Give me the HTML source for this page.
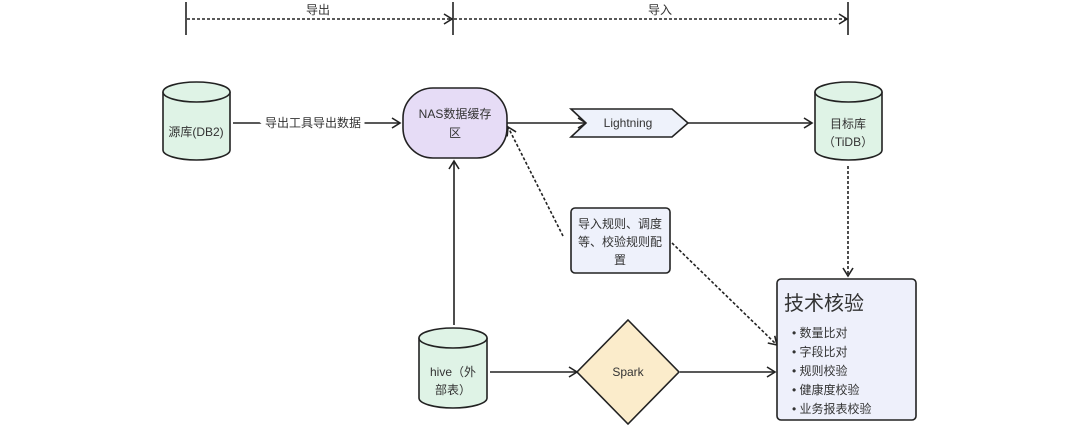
<!DOCTYPE html>
<html><head><meta charset="utf-8"><style>
body{margin:0;background:#fff;}
svg text{font-family:"Liberation Sans","Noto Sans CJK SC",sans-serif;fill:#333;}
</style></head><body>
<svg width="1080" height="435" viewBox="0 0 1080 435" xmlns="http://www.w3.org/2000/svg">
<defs>
<marker id="a" markerWidth="12" markerHeight="12" refX="10" refY="6" orient="auto" markerUnits="userSpaceOnUse">
<path d="M2,1 L10,6 L2,11" fill="none" stroke="#222" stroke-width="1.6"/></marker>
</defs>
<g stroke="#222" stroke-width="1.6" fill="none">
<line x1="186" y1="2" x2="186" y2="35"/><line x1="453" y1="2" x2="453" y2="35"/><line x1="848" y1="2" x2="848" y2="35"/>
<line x1="187" y1="19" x2="452" y2="19" stroke-dasharray="3,2" marker-end="url(#a)"/>
<line x1="454" y1="19" x2="847" y2="19" stroke-dasharray="3,2" marker-end="url(#a)"/>
<line x1="233" y1="123" x2="400" y2="123" marker-end="url(#a)"/>
<line x1="507" y1="123" x2="586" y2="123" marker-end="url(#a)"/>
<line x1="688" y1="123" x2="812" y2="123" marker-end="url(#a)"/>
<line x1="848" y1="166" x2="848" y2="276" stroke-dasharray="3,2" marker-end="url(#a)"/>
<line x1="454" y1="325" x2="454" y2="161" marker-end="url(#a)"/>
<line x1="563" y1="236" x2="508" y2="127" stroke-dasharray="3,2" marker-end="url(#a)"/>
<line x1="672" y1="243" x2="777" y2="345" stroke-dasharray="3,2" marker-end="url(#a)"/>
<line x1="490" y1="372" x2="577" y2="372" marker-end="url(#a)"/>
<line x1="680" y1="372" x2="775" y2="372" marker-end="url(#a)"/>
</g>
<text x="318" y="14" font-size="12" text-anchor="middle">导出</text>
<text x="660" y="14" font-size="12" text-anchor="middle">导入</text>
<text x="313" y="127" font-size="12" text-anchor="middle" style="paint-order:stroke" stroke="#fff" stroke-width="8">导出工具导出数据</text>
<g stroke="#222" stroke-width="1.6" fill="#dff3e6">
<path d="M163,92 L163,150 A33.5,10 0 0 0 230,150 L230,92"/>
<ellipse cx="196.5" cy="92" rx="33.5" ry="10"/>
<path d="M815,92 L815,150 A33.5,10 0 0 0 882,150 L882,92"/>
<ellipse cx="848.5" cy="92" rx="33.5" ry="10"/>
<path d="M419,338 L419,398 A34,10 0 0 0 487,398 L487,338"/>
<ellipse cx="453" cy="338" rx="34" ry="10"/>
</g>
<text x="196" y="136" font-size="12" text-anchor="middle">源库(DB2)</text>
<text x="848" y="128" font-size="12" text-anchor="middle">目标库</text>
<text x="848" y="146" font-size="12" text-anchor="middle">（TiDB）</text>
<text x="453" y="376" font-size="12" text-anchor="middle">hive（外</text>
<text x="453" y="394" font-size="12" text-anchor="middle">部表）</text>
<rect x="403" y="88" width="104" height="70" rx="30" ry="30" fill="#e6dcf6" stroke="#222" stroke-width="1.6"/>
<text x="455" y="118" font-size="12" text-anchor="middle">NAS数据缓存</text>
<text x="455" y="137" font-size="12" text-anchor="middle">区</text>
<path d="M571,109 L672,109 L688,123 L672,137 L571,137 L586,123 Z" fill="#eef2fb" stroke="#222" stroke-width="1.6"/>
<text x="628" y="127" font-size="12" text-anchor="middle">Lightning</text>
<rect x="571" y="208" width="99" height="65" rx="4" fill="#eef1fb" stroke="#222" stroke-width="1.6"/>
<text x="620" y="228" font-size="12" text-anchor="middle">导入规则、调度</text>
<text x="620" y="246" font-size="12" text-anchor="middle">等、校验规则配</text>
<text x="620" y="264" font-size="12" text-anchor="middle">置</text>
<path d="M628,320 L679,372 L628,424 L577,372 Z" fill="#fbeccb" stroke="#222" stroke-width="1.6"/>
<text x="628" y="376" font-size="12" text-anchor="middle">Spark</text>
<rect x="777" y="279" width="139" height="141" rx="4" fill="#eef0fb" stroke="#222" stroke-width="1.6"/>
<text x="784" y="310" font-size="20" fill="#222">技术核验</text>
<g font-size="12">
<text x="792" y="337">•  数量比对</text>
<text x="792" y="356">•  字段比对</text>
<text x="792" y="375">•  规则校验</text>
<text x="792" y="394">•  健康度校验</text>
<text x="792" y="413">•  业务报表校验</text>
</g>
</svg>
</body></html>
